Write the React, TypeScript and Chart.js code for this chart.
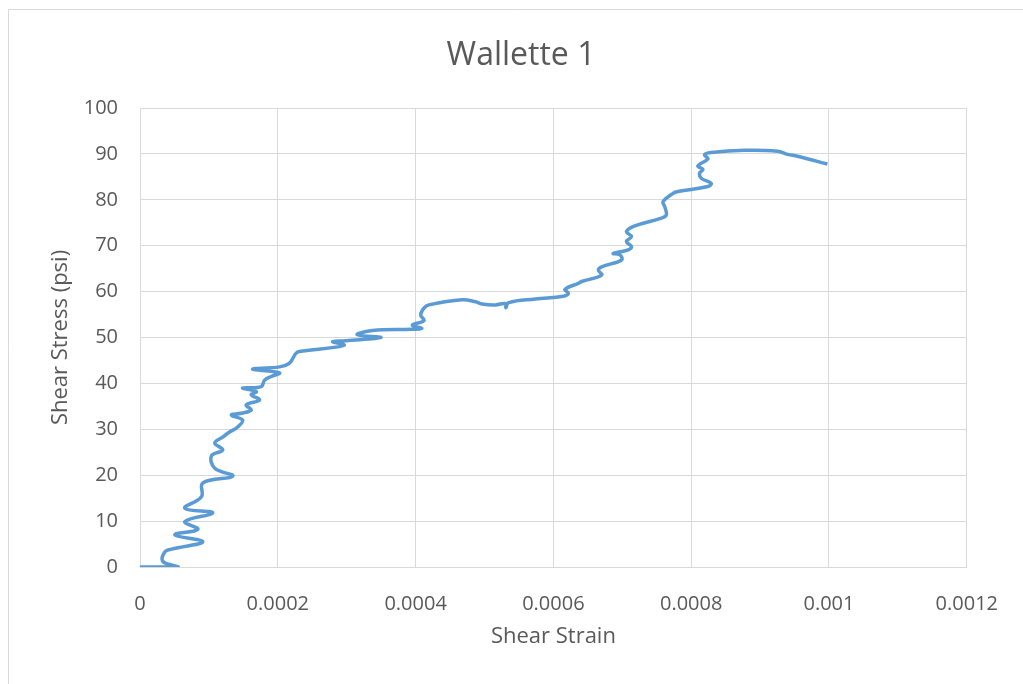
import React, { useEffect, useRef } from "react";
import { Chart, registerables } from "chart.js";

Chart.register(...registerables);

const chartTitle = "Wallette 1";
const xAxisTitle = "Shear Strain";
const yAxisTitle = "Shear Stress (psi)";

const xTickValues = [0, 0.0002, 0.0004, 0.0006, 0.0008, 0.001, 0.0012];
const xTickLabels = ["0", "0.0002", "0.0004", "0.0006", "0.0008", "0.001", "0.0012"];

const shearStrain = [
  0, 0.000055, 0.0000333, 0.0000362, 0.0000458, 0.0000911, 0.0000506, 0.0000839,
  0.0000651, 0.0001056, 0.0000651, 0.0000892, 0.0000911, 0.0001345, 0.0001085,
  0.0001037, 0.00012, 0.0001085, 0.00012, 0.00013, 0.0001417, 0.0001489, 0.0001326,
  0.0001471, 0.0001615, 0.0001543, 0.0001735, 0.0001615, 0.0001688, 0.0001489,
  0.000176, 0.0001808, 0.0001904, 0.0002024, 0.0001634, 0.0002024, 0.0002169,
  0.0002266, 0.0002338, 0.0002844, 0.0002964, 0.0002795, 0.0002989, 0.0003495,
  0.0003152, 0.0003374, 0.0003952, 0.0004092, 0.0003952, 0.0004121, 0.0004073,
  0.0004121, 0.0004193, 0.0004675, 0.0004869, 0.0004964, 0.0005158, 0.0005303,
  0.0005311, 0.000535, 0.0005736, 0.0006146, 0.0006218, 0.000617, 0.0006362,
  0.000641, 0.00067, 0.0006652, 0.00067, 0.0006989, 0.0006966, 0.0006869,
  0.0007085, 0.0007133, 0.0007061, 0.0007133, 0.0007061, 0.0007182, 0.0007567,
  0.0007639, 0.0007616, 0.0007592, 0.0007736, 0.0007808, 0.0008242, 0.000829,
  0.0008145, 0.0008122, 0.000817, 0.0008098, 0.0008242, 0.0008194, 0.000829,
  0.0008773, 0.0009254, 0.0009399, 0.0009544, 0.0009977,
];

const shearStress = [
  0, 0, 1.2, 3.3, 3.9, 5.5, 7.0, 8.2,
  9.9, 11.8, 12.8, 15.3, 18.3, 19.8, 21.5,
  24.2, 25.5, 27, 28.3, 29.4, 30.5, 32, 33.1,
  33.5, 34.2, 35.3, 36.4, 37.5, 38.2, 39,
  39.3, 40.7, 41.5, 42.3, 43.1, 43.6, 44.4,
  46.6, 47, 47.9, 48.4, 49.1, 49.3, 50.0,
  50.6, 51.5, 51.8, 52.0, 52.7, 53.7, 54.9,
  56.4, 57.1, 58.2, 57.8, 57.3, 57.1, 57.4,
  56.5, 57.6, 58.4, 59, 59.6, 60.5, 61.8,
  62.2, 63.6, 64.7, 65.4, 66.9, 68, 68.3,
  69.1, 69.8, 70.9, 72, 73.1, 74.3, 76,
  76.7, 78.5, 79.6, 81.4, 81.8, 82.9, 83.6,
  84.7, 85.8, 86.6, 87.4, 88.9, 89.8, 90.3,
  90.8, 90.6, 89.9, 89.5, 87.8,
];

const TEXT = "#595959";
const GRID = "#d9d9d9";
const FONT = "'Open Sans', 'DejaVu Sans', sans-serif";

const frameAndTitle = {
  id: "frameAndTitle",
  beforeDraw(chart: any) {
    const ctx = chart.ctx;
    ctx.save();
    ctx.fillStyle = "#ffffff";
    ctx.fillRect(0, 0, chart.width, chart.height);
    ctx.strokeStyle = GRID;
    ctx.lineWidth = 1;
    ctx.beginPath();
    ctx.moveTo(8.5, chart.height + 2);
    ctx.lineTo(8.5, 9.5);
    ctx.lineTo(chart.width + 2, 9.5);
    ctx.stroke();
    ctx.fillStyle = TEXT;
    ctx.font = `32px ${FONT}`;
    ctx.textAlign = "center";
    ctx.textBaseline = "middle";
    ctx.fillText(chartTitle, 521, 56);
    ctx.restore();
  },
};

export default function App() {
  const ref = useRef<HTMLCanvasElement | null>(null);

  useEffect(() => {
    if (!ref.current) return;
    const points = shearStrain.map((x, i) => ({ x, y: shearStress[i] }));
    const chart = new Chart(ref.current, {
      type: "scatter",
      data: {
        datasets: [
          {
            data: points,
            showLine: true,
            borderColor: "#5B9BD5",
            backgroundColor: "#5B9BD5",
            borderWidth: 3.5,
            pointRadius: 0,
            tension: 0.4,
            fill: false,
          },
        ],
      },
      options: {
        responsive: false,
        animation: false,
        layout: { padding: { left: 0, right: 53, top: 108, bottom: 0 } },
        plugins: {
          legend: { display: false },
          tooltip: { enabled: false },
          title: { display: false },
        },
        scales: {
          x: {
            type: "linear",
            min: 0,
            max: 0.0012,
            afterBuildTicks: (scale: any) => {
              scale.ticks = xTickValues.map((v) => ({ value: v }));
            },
            afterFit: (scale: any) => {
              scale.height = 117;
            },
            ticks: {
              color: TEXT,
              font: { family: FONT, size: 20 },
              padding: 25,
              maxRotation: 0,
              autoSkip: false,
              callback: (_v: any, i: number) => xTickLabels[i],
            },
            grid: { color: GRID, drawTicks: false, lineWidth: 1 },
            border: { color: GRID },
            title: {
              display: true,
              text: xAxisTitle,
              color: TEXT,
              font: { family: FONT, size: 22 },
              padding: { top: 0, bottom: 34 },
            },
          },
          y: {
            type: "linear",
            min: 0,
            max: 100,
            afterFit: (scale: any) => {
              scale.width = 140;
            },
            ticks: {
              stepSize: 10,
              color: TEXT,
              font: { family: FONT, size: 20 },
              padding: 22,
            },
            grid: { color: GRID, drawTicks: false, lineWidth: 1 },
            border: { color: GRID },
            title: {
              display: true,
              text: yAxisTitle,
              color: TEXT,
              font: { family: FONT, size: 22 },
              padding: { top: 48, bottom: 0 },
            },
          },
        },
      },
      plugins: [frameAndTitle],
    });
    return () => chart.destroy();
  }, []);

  return (
    <canvas
      ref={ref}
      width={1023}
      height={684}
      style={{ position: "fixed", left: 0, top: 0, width: 1023, height: 684 }}
    />
  );
}
